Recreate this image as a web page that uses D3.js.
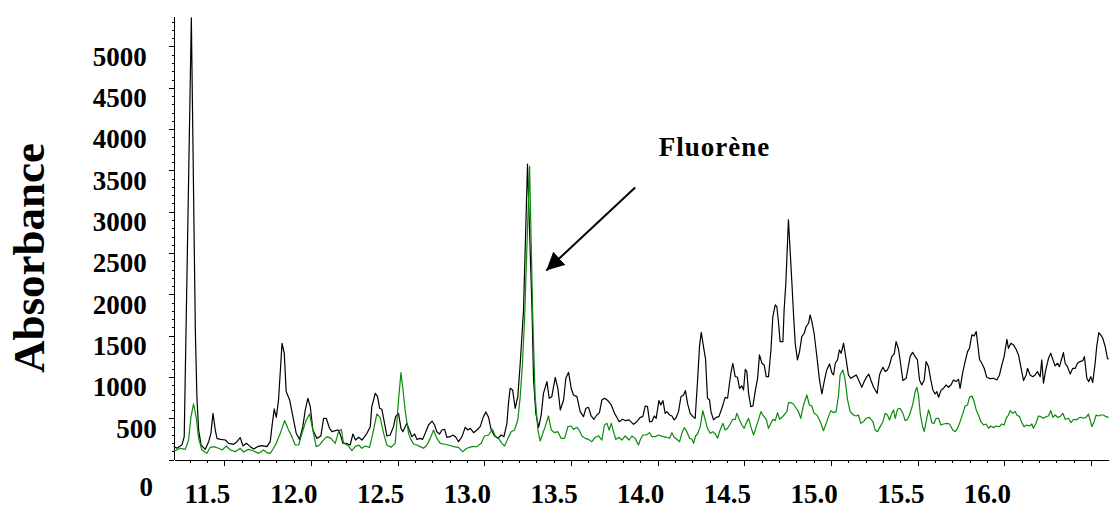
<!DOCTYPE html>
<html>
<head>
<meta charset="utf-8">
<script src="https://cdn.jsdelivr.net/npm/d3@7"></script>
<style>
  body { margin: 0; background: #fff; }
  text { font-family: "Liberation Serif", "Times New Roman", serif; font-weight: bold; }
</style>
</head>
<body>
<div id="chart"></div>
<script>
'use strict';

// retention time (min) / absorbance
var blackTrace = [
[11.208,160],[11.227,140],[11.256,180],[11.269,280],[11.310,5345],[11.333,1570],[11.342,763],[11.352,360],
[11.366,180],[11.390,125],[11.410,218],[11.423,319],[11.435,561],[11.448,359],[11.458,258],[11.477,246],
[11.506,238],[11.525,198],[11.554,186],[11.573,218],[11.592,267],[11.608,166],[11.627,198],[11.650,158],
[11.669,129],[11.692,158],[11.717,170],[11.746,158],[11.765,218],[11.775,400],[11.788,614],[11.800,513],
[11.813,723],[11.833,1409],[11.846,1288],[11.857,824],[11.877,723],[11.896,521],[11.915,319],[11.934,246],
[11.953,400],[11.967,601],[11.982,743],[11.996,642],[12.011,359],[12.034,258],[12.057,287],[12.073,501],
[12.088,501],[12.107,380],[12.121,339],[12.140,351],[12.159,359],[12.173,279],[12.184,198],[12.203,198],
[12.226,178],[12.242,311],[12.257,238],[12.275,271],[12.294,238],[12.323,319],[12.342,400],[12.351,642],
[12.371,803],[12.384,763],[12.396,622],[12.409,610],[12.428,400],[12.438,287],[12.457,299],[12.476,400],
[12.488,521],[12.505,561],[12.519,380],[12.530,339],[12.553,440],[12.567,359],[12.582,279],[12.598,311],
[12.611,246],[12.630,258],[12.644,246],[12.659,319],[12.678,420],[12.698,468],[12.713,420],[12.726,339],
[12.742,311],[12.755,359],[12.771,367],[12.784,271],[12.803,279],[12.819,299],[12.836,271],[12.851,218],
[12.871,279],[12.890,392],[12.905,359],[12.919,380],[12.938,327],[12.957,359],[12.976,400],[12.995,521],
[13.009,578],[13.024,513],[13.040,359],[13.059,287],[13.078,258],[13.097,299],[13.113,279],[13.130,440],
[13.140,703],[13.149,864],[13.163,844],[13.178,622],[13.193,763],[13.207,1167],[13.226,1812],[13.249,3576],
[13.275,1812],[13.284,965],[13.297,561],[13.313,392],[13.328,541],[13.341,803],[13.361,945],[13.374,743],
[13.389,763],[13.409,997],[13.424,864],[13.438,601],[13.457,723],[13.470,985],[13.486,1058],[13.501,864],
[13.514,783],[13.534,763],[13.553,581],[13.572,521],[13.586,622],[13.601,634],[13.616,529],[13.632,489],
[13.649,541],[13.664,569],[13.678,723],[13.693,743],[13.712,715],[13.732,662],[13.751,561],[13.764,513],
[13.778,460],[13.797,489],[13.816,472],[13.835,481],[13.860,428],[13.880,460],[13.899,513],[13.914,521],
[13.928,650],[13.941,642],[13.953,460],[13.966,460],[13.980,529],[13.991,501],[14.007,715],[14.018,662],
[14.030,715],[14.043,561],[14.053,582],[14.068,541],[14.082,529],[14.095,481],[14.107,513],[14.120,582],
[14.134,763],[14.149,783],[14.160,836],[14.172,682],[14.187,561],[14.203,521],[14.216,501],[14.230,965],
[14.241,1368],[14.251,1542],[14.264,1368],[14.276,1215],[14.287,743],[14.299,723],[14.307,582],[14.322,481],
[14.337,513],[14.353,521],[14.370,622],[14.380,690],[14.389,755],[14.403,743],[14.414,925],[14.422,1046],
[14.433,1167],[14.447,1005],[14.460,997],[14.472,864],[14.485,892],[14.495,844],[14.505,1094],[14.514,1066],
[14.524,803],[14.537,642],[14.549,650],[14.562,824],[14.576,985],[14.587,1268],[14.601,1167],[14.614,1147],
[14.626,1005],[14.639,1005],[14.653,1328],[14.664,1732],[14.678,1873],[14.687,1853],[14.697,1651],[14.706,1429],
[14.722,1429],[14.729,1812],[14.739,2135],[14.754,2902],[14.774,2135],[14.783,1772],[14.793,1409],[14.806,1207],
[14.818,1308],[14.831,1490],[14.845,1530],[14.856,1611],[14.870,1651],[14.879,1752],[14.889,1671],[14.902,1530],
[14.918,1247],[14.933,965],[14.947,795],[14.960,945],[14.975,1086],[14.991,1159],[15.004,1054],[15.014,1025],
[15.024,1167],[15.037,1207],[15.048,1328],[15.058,1288],[15.072,1409],[15.087,1207],[15.100,1025],[15.114,985],
[15.129,1005],[15.145,1025],[15.160,957],[15.177,876],[15.191,945],[15.206,1005],[15.218,1034],[15.229,965],
[15.245,876],[15.260,824],[15.266,803],[15.279,1025],[15.287,1066],[15.299,1118],[15.312,1066],[15.325,1086],
[15.337,1146],[15.350,1247],[15.364,1280],[15.375,1429],[15.389,1336],[15.402,1146],[15.414,957],[15.433,985],
[15.447,1146],[15.456,1247],[15.470,1300],[15.485,1247],[15.498,1207],[15.510,965],[15.523,904],[15.537,965],
[15.548,1187],[15.562,1126],[15.575,965],[15.587,844],[15.600,795],[15.610,824],[15.620,755],[15.633,836],
[15.648,864],[15.664,904],[15.677,876],[15.691,904],[15.706,965],[15.721,945],[15.735,973],[15.744,864],
[15.760,1066],[15.773,1187],[15.787,1308],[15.798,1348],[15.812,1510],[15.825,1498],[15.837,1550],[15.844,1429],
[15.856,1215],[15.869,1167],[15.883,1106],[15.898,997],[15.917,981],[15.937,985],[15.956,965],[15.971,1025],
[15.985,1146],[15.998,1247],[16.014,1457],[16.023,1348],[16.037,1409],[16.052,1389],[16.067,1336],[16.081,1268],
[16.094,1126],[16.110,957],[16.125,1025],[16.133,1106],[16.148,1025],[16.163,1005],[16.177,1025],[16.190,1066],
[16.206,1005],[16.215,1207],[16.225,925],[16.238,1086],[16.254,1227],[16.267,1288],[16.283,1187],[16.292,1134],
[16.306,1167],[16.317,1126],[16.331,1227],[16.340,1296],[16.350,1167],[16.363,1126],[16.379,1038],[16.394,1106],
[16.408,1106],[16.421,1167],[16.436,1187],[16.452,1199],[16.461,1247],[16.475,985],[16.486,945],[16.498,1005],
[16.509,933],[16.523,1167],[16.532,1369],[16.544,1538],[16.555,1510],[16.567,1469],[16.581,1369],[16.594,1227],
[16.600,1215]
];

var greenTrace = [
[11.208,117],[11.217,109],[11.246,138],[11.275,125],[11.294,238],[11.308,521],[11.323,674],[11.339,501],
[11.352,258],[11.371,117],[11.400,77],[11.419,150],[11.438,158],[11.467,138],[11.487,117],[11.512,166],
[11.535,117],[11.563,97],[11.592,138],[11.611,93],[11.640,125],[11.669,105],[11.698,77],[11.727,117],
[11.746,85],[11.765,77],[11.784,138],[11.800,198],[11.823,319],[11.848,473],[11.871,359],[11.890,279],
[11.909,178],[11.929,178],[11.948,319],[11.973,481],[11.992,553],[12.011,359],[12.030,158],[12.050,178],
[12.069,230],[12.092,279],[12.115,258],[12.140,198],[12.159,339],[12.175,367],[12.188,198],[12.211,178],
[12.236,109],[12.255,158],[12.275,178],[12.294,138],[12.313,166],[12.338,150],[12.361,359],[12.380,553],
[12.399,513],[12.419,319],[12.438,178],[12.461,150],[12.486,198],[12.505,723],[12.519,1054],[12.530,864],
[12.544,581],[12.563,319],[12.573,258],[12.592,190],[12.611,178],[12.630,158],[12.649,138],[12.669,178],
[12.688,258],[12.707,359],[12.726,258],[12.746,198],[12.765,190],[12.794,178],[12.823,158],[12.851,150],
[12.874,97],[12.899,138],[12.928,158],[12.957,158],[12.982,198],[13.001,287],[13.024,299],[13.047,367],
[13.063,287],[13.082,258],[13.101,198],[13.117,166],[13.136,258],[13.155,339],[13.174,359],[13.193,481],
[13.207,763],[13.220,1167],[13.232,1700],[13.261,3550],[13.279,1750],[13.293,763],[13.309,359],[13.322,226],
[13.336,311],[13.351,400],[13.370,529],[13.386,359],[13.405,327],[13.424,339],[13.443,258],[13.463,258],
[13.482,400],[13.501,408],[13.514,367],[13.534,392],[13.547,359],[13.563,287],[13.582,258],[13.601,246],
[13.620,218],[13.639,271],[13.659,287],[13.678,238],[13.693,420],[13.707,440],[13.720,359],[13.732,440],
[13.745,339],[13.758,246],[13.778,271],[13.793,238],[13.812,287],[13.835,238],[13.851,287],[13.870,258],
[13.889,178],[13.899,238],[13.914,299],[13.934,299],[13.953,327],[13.966,279],[13.986,279],[14.005,299],
[14.030,279],[14.053,271],[14.068,259],[14.082,327],[14.095,271],[14.110,247],[14.126,218],[14.139,319],
[14.153,388],[14.168,339],[14.184,259],[14.197,247],[14.207,198],[14.218,287],[14.230,311],[14.245,400],
[14.260,594],[14.274,481],[14.287,380],[14.303,319],[14.318,339],[14.332,311],[14.345,259],[14.360,360],
[14.376,440],[14.389,360],[14.403,380],[14.418,432],[14.433,489],[14.447,489],[14.456,561],[14.472,481],
[14.485,420],[14.499,380],[14.510,440],[14.524,501],[14.537,400],[14.553,299],[14.568,400],[14.581,481],
[14.595,582],[14.610,529],[14.626,489],[14.639,380],[14.653,440],[14.664,489],[14.678,473],[14.691,569],
[14.703,489],[14.716,513],[14.729,541],[14.745,582],[14.754,690],[14.768,690],[14.783,674],[14.799,622],
[14.812,582],[14.825,501],[14.841,662],[14.860,783],[14.875,662],[14.889,650],[14.902,561],[14.918,541],
[14.933,481],[14.947,408],[14.956,351],[14.972,440],[14.985,521],[14.999,594],[15.014,569],[15.029,582],
[15.043,783],[15.052,1025],[15.068,1086],[15.081,965],[15.095,723],[15.110,582],[15.129,541],[15.145,529],
[15.158,541],[15.171,440],[15.187,460],[15.202,501],[15.221,513],[15.241,460],[15.254,360],[15.268,339],
[15.283,400],[15.299,460],[15.312,561],[15.325,541],[15.337,481],[15.350,561],[15.360,602],[15.370,501],
[15.383,610],[15.398,622],[15.414,561],[15.427,473],[15.441,489],[15.456,561],[15.472,682],[15.485,824],
[15.495,876],[15.504,783],[15.514,561],[15.527,408],[15.537,339],[15.548,460],[15.562,602],[15.571,541],
[15.581,448],[15.594,440],[15.606,501],[15.620,501],[15.633,420],[15.648,432],[15.668,440],[15.683,432],
[15.702,360],[15.716,339],[15.729,380],[15.744,460],[15.760,561],[15.773,650],[15.787,662],[15.798,755],
[15.812,771],[15.825,703],[15.837,602],[15.850,541],[15.864,460],[15.879,420],[15.894,432],[15.908,380],
[15.921,408],[15.937,388],[15.952,408],[15.971,400],[15.985,432],[15.998,420],[16.010,501],[16.023,541],
[16.033,594],[16.048,561],[16.062,582],[16.071,541],[16.087,521],[16.100,448],[16.113,400],[16.129,420],
[16.144,408],[16.158,432],[16.167,380],[16.183,448],[16.196,529],[16.210,521],[16.225,501],[16.240,521],
[16.254,529],[16.267,594],[16.279,513],[16.292,541],[16.306,513],[16.321,521],[16.337,561],[16.350,489],
[16.369,501],[16.383,448],[16.398,489],[16.413,481],[16.427,501],[16.440,513],[16.456,501],[16.471,513],
[16.484,553],[16.494,481],[16.504,400],[16.517,460],[16.529,541],[16.542,529],[16.555,541],[16.571,541],
[16.586,521],[16.600,513]
];

var xMajorTicks = [11.5, 12.0, 12.5, 13.0, 13.5, 14.0, 14.5, 15.0, 15.5, 16.0, 16.5];
var xTickLabels = ["11.5", "12.0", "12.5", "13.0", "13.5", "14.0", "14.5", "15.0", "15.5", "16.0", ""];
var yMajorTicks = [0, 500, 1000, 1500, 2000, 2500, 3000, 3500, 4000, 4500, 5000];
var yTickLabels = ["0", "500", "1000", "1500", "2000", "2500", "3000", "3500", "4000", "4500", "5000"];

var yTitle = "Absorbance";
var peakName = "Fluorène";
// label position and arrow (tail -> head) in data units
var peakLabel = [14.328, 3677];
var peakArrow = [[13.870, 3293], [13.357, 2288]];

var width = 1109,
    height = 508,
    margin = { top: 16.7, right: 0.5, bottom: 48.3, left: 174 };

var svg = d3.select("#chart").append("svg")
    .attr("width", width)
    .attr("height", height);

var xScale = d3.scaleLinear()
    .domain([11.21, 16.6])
    .range([margin.left, width - margin.right]);

var yScale = d3.scaleLinear()
    .domain([0, 5360])
    .range([height - margin.bottom, margin.top]);

var plotBottom = height - margin.bottom;

// minor ticks
svg.append("g")
    .attr("class", "xMinor")
    .attr("transform", "translate(0," + plotBottom + ")")
    .call(d3.axisBottom(xScale).tickValues(d3.range(11.3, 16.65, 0.1)).tickSize(3.5).tickFormat(""))
    .call(function(g){ g.select(".domain").remove(); });

svg.append("g")
    .attr("class", "yMinor")
    .attr("transform", "translate(" + margin.left + ",0)")
    .call(d3.axisLeft(yScale).tickValues(d3.range(100, 5360, 100)).tickSize(2.5).tickFormat(""))
    .call(function(g){ g.select(".domain").remove(); });

// major ticks + labels
var xAxis = svg.append("g")
    .attr("class", "Xaxis")
    .attr("transform", "translate(0," + plotBottom + ")")
    .call(d3.axisBottom(xScale)
        .tickValues(xMajorTicks)
        .tickSize(6)
        .tickSizeOuter(0)
        .tickPadding(18)
        .tickFormat(function(d, i){ return xTickLabels[i]; }));

xAxis.selectAll("text")
    .attr("dx", -17.5)
    .attr("dy", "0.71em");

var yAxis = svg.append("g")
    .attr("class", "Yaxis")
    .attr("transform", "translate(" + margin.left + ",0)")
    .call(d3.axisLeft(yScale)
        .tickValues(yMajorTicks)
        .tickSize(5)
        .tickSizeOuter(0)
        .tickPadding(22.3)
        .tickFormat(function(d, i){ return yTickLabels[i]; }));

yAxis.selectAll("text")
    .attr("dy", "0.69em")
    .attr("dx", function(d){ return d === 0 ? 6.3 : (d === 500 ? 10 : 0); })
    .attr("y", function(d){ return d === 0 ? 17 : 0; });

svg.selectAll(".tick text")
    .attr("fill", "#000")
    .style("font-size", "27px");

svg.selectAll(".domain, .tick line")
    .attr("stroke", "#000")
    .attr("shape-rendering", "crispEdges");

// traces
var line = d3.line()
    .x(function(d){ return xScale(d[0]); })
    .y(function(d){ return yScale(d[1]); });

svg.append("path")
    .datum(blackTrace)
    .attr("fill", "none")
    .attr("stroke", "#000")
    .attr("stroke-width", 1.2)
    .attr("stroke-linejoin", "round")
    .attr("d", line);

svg.append("path")
    .datum(greenTrace)
    .attr("fill", "none")
    .attr("stroke", "#0b8a0b")
    .attr("stroke-width", 1.2)
    .attr("stroke-linejoin", "round")
    .attr("d", line);

// y title
svg.append("text")
    .attr("transform", "translate(43.5,258) rotate(-90)")
    .attr("text-anchor", "middle")
    .style("font-size", "45px")
    .text(yTitle);

// annotation
svg.append("defs").append("marker")
    .attr("id", "arrowHead")
    .attr("viewBox", "0 0 10 10")
    .attr("refX", 10)
    .attr("refY", 5)
    .attr("markerWidth", 9)
    .attr("markerHeight", 9)
    .attr("markerUnits", "strokeWidth")
    .attr("orient", "auto")
    .append("path")
    .attr("d", "M0,0L10,5L0,10z")
    .attr("fill", "#000");

svg.append("line")
    .attr("x1", xScale(peakArrow[0][0]))
    .attr("y1", yScale(peakArrow[0][1]))
    .attr("x2", xScale(peakArrow[1][0]))
    .attr("y2", yScale(peakArrow[1][1]))
    .attr("stroke", "#000")
    .attr("stroke-width", 2)
    .attr("marker-end", "url(#arrowHead)");

svg.append("text")
    .attr("x", xScale(peakLabel[0]))
    .attr("y", yScale(peakLabel[1]))
    .attr("text-anchor", "middle")
    .style("font-size", "27px")
    .style("letter-spacing", "1px")
    .text(peakName);
</script>
</body>
</html>
